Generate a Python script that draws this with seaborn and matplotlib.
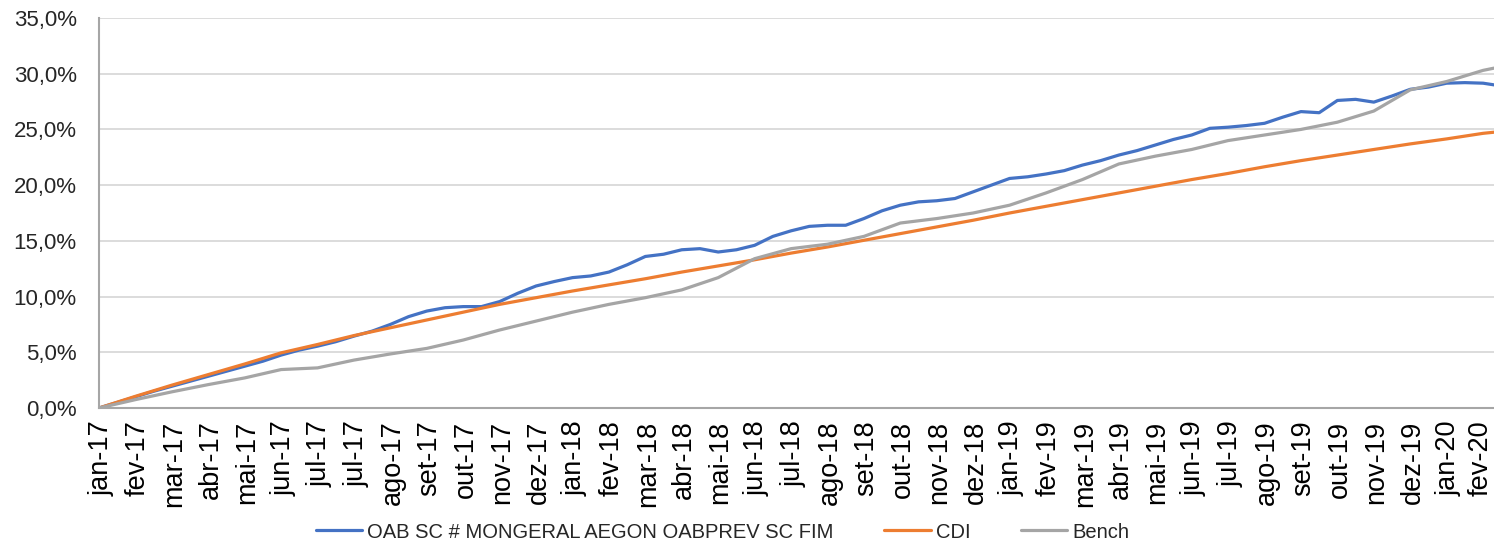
import matplotlib
matplotlib.use("Agg")
import matplotlib.pyplot as plt
import matplotlib.transforms as mtransforms
import numpy as np
import pandas as pd
import seaborn as sns
from matplotlib.ticker import FuncFormatter

# datas (grade de leitura do gráfico)
START = "2016-12-31"
END = "2020-02-23"
fund_dates = pd.date_range(START, periods=77, freq="15D").append(pd.DatetimeIndex([END]))
bench_dates = pd.date_range(START, periods=39, freq="30D").append(pd.DatetimeIndex([END]))

# rentabilidade acumulada (%)
fund = [0.0, 0.5, 1.0, 1.5, 1.95, 2.4, 2.85, 3.3, 3.75, 4.2,
        4.75, 5.2, 5.55, 5.95, 6.45, 6.9, 7.5, 8.2, 8.7, 9.0,
        9.1, 9.1, 9.55, 10.3, 10.95, 11.35, 11.7, 11.85, 12.2, 12.85,
        13.6, 13.8, 14.2, 14.3, 14.0, 14.2, 14.6, 15.4, 15.9, 16.3,
        16.4, 16.4, 17.0, 17.7, 18.2, 18.5, 18.6, 18.8, 19.4, 20.0,
        20.6, 20.75, 21.0, 21.3, 21.8, 22.2, 22.7, 23.1, 23.6, 24.1,
        24.5, 25.1, 25.2, 25.35, 25.55, 26.1, 26.6, 26.5, 27.6, 27.7,
        27.45, 28.0, 28.6, 28.8, 29.15, 29.2, 29.15, 29.0]
cdi = [0.0, 1.05, 2.05, 3.0, 3.95, 4.95, 5.7, 6.5, 7.2, 7.9,
       8.6, 9.3, 9.9, 10.5, 11.05, 11.6, 12.2, 12.75, 13.3, 13.9,
       14.45, 15.05, 15.65, 16.25, 16.85, 17.5, 18.1, 18.7, 19.3, 19.9,
       20.5, 21.05, 21.65, 22.2, 22.7, 23.2, 23.7, 24.15, 24.65, 24.75]
bench = [0.0, 0.75, 1.45, 2.1, 2.7, 3.45, 3.6, 4.3, 4.85, 5.35,
         6.1, 7.0, 7.8, 8.6, 9.3, 9.9, 10.6, 11.7, 13.4, 14.3,
         14.7, 15.4, 16.6, 17.0, 17.5, 18.2, 19.3, 20.5, 21.9, 22.6,
         23.2, 24.0, 24.5, 25.0, 25.65, 26.65, 28.55, 29.3, 30.3, 30.5]

series_names = ["OAB SC # MONGERAL AEGON OABPREV SC FIM", "CDI", "Bench"]
colors = ["#4472C4", "#ED7D31", "#A5A5A5"]
months_pt = ["jan", "fev", "mar", "abr", "mai", "jun",
             "jul", "ago", "set", "out", "nov", "dez"]
tick_dates = pd.date_range("2017-01-02", periods=39, freq="30D")

df = pd.concat([
    pd.DataFrame({"Data": fund_dates, "Valor": fund, "Serie": series_names[0]}),
    pd.DataFrame({"Data": bench_dates, "Valor": cdi, "Serie": series_names[1]}),
    pd.DataFrame({"Data": bench_dates, "Valor": bench, "Serie": series_names[2]}),
], ignore_index=True)

sns.set_style("white")
plt.rcParams["font.family"] = ["Liberation Sans", "DejaVu Sans"]

fig = plt.figure(figsize=(14.94, 5.47), dpi=100)
ax = fig.add_axes([99 / 1494, 139 / 547, 1395 / 1494, 390 / 547])

sns.lineplot(data=df, x="Data", y="Valor", hue="Serie", hue_order=series_names,
             palette=colors, linewidth=2.3, ax=ax)

ax.set_xlim(pd.Timestamp(START), pd.Timestamp(END))
ax.set_ylim(0, 35)
ax.set_yticks(np.arange(0, 36, 5))
ax.yaxis.set_major_formatter(FuncFormatter(lambda v, _: f"{v:.1f}%".replace(".", ",")))
ax.set_xticks(tick_dates)
ax.set_xticklabels([f"{months_pt[d.month - 1]}-{d:%y}" for d in tick_dates],
                   rotation=90, ha="center", va="top")
ax.tick_params(axis="x", length=0, pad=9, labelsize=19.5, colors="#000000")
ax.tick_params(axis="y", length=7, width=1.2, color="#A6A6A6", pad=9, labelsize=16)
ax.set_xlabel("")
ax.set_ylabel("")

# o último rótulo encosta na borda direita
last = ax.get_xticklabels()[-1]
last.set_transform(last.get_transform() + mtransforms.ScaledTranslation(-5 / 100, 0, fig.dpi_scale_trans))

ax.yaxis.grid(True, color="#D9D9D9", linewidth=1.3)
ax.set_axisbelow(True)
for side in ["top", "right"]:
    ax.spines[side].set_visible(False)
for side in ["left", "bottom"]:
    ax.spines[side].set_color("#A6A6A6")
    ax.spines[side].set_linewidth(1.5)

handles, labels = ax.get_legend_handles_labels()
ax.get_legend().remove()
fig.legend(handles, labels, loc="center", bbox_to_anchor=(0.4836, 15 / 547),
           ncol=3, frameon=False, handlelength=2.3, handletextpad=0.25,
           columnspacing=2.5, fontsize=14.5)

fig.savefig("out.png", dpi=100)
plt.close(fig)
